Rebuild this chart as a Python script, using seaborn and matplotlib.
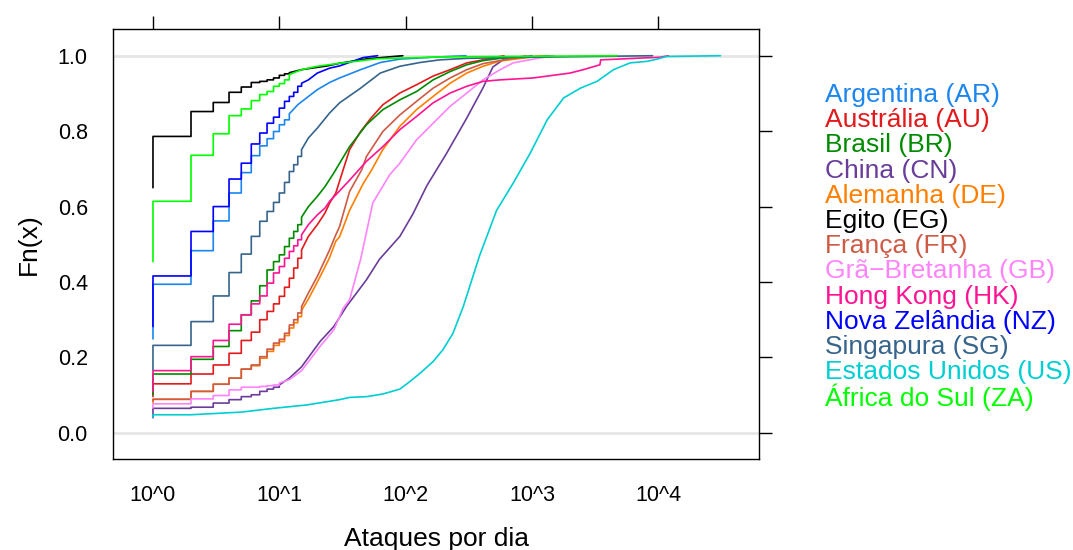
import numpy as np
import pandas as pd
import matplotlib
matplotlib.use('Agg')
from matplotlib import pyplot as plt
import seaborn as sns

# paises e cores (mesma ordem da legenda)
paises = ['Argentina (AR)', 'Austrália (AU)', 'Brasil (BR)', 'China (CN)', 'Alemanha (DE)',
          'Egito (EG)', 'França (FR)', 'Grã\u2212Bretanha (GB)', 'Hong Kong (HK)',
          'Nova Zelândia (NZ)', 'Singapura (SG)', 'Estados Unidos (US)', 'África do Sul (ZA)']
cores = ['#1C86EE', '#E31A1C', '#008B00', '#6A3D9A', '#FF7F00', '#000000', '#CD5B45',
         '#FF83FA', '#FF1493', '#0000FF', '#36648B', '#00CED1', '#00FF00']

# ECDF: valor inicial (F0) em x=1 e pontos (ataques, Fn)
ar_f0 = 0.249
ar_x = [1, 2, 3, 4, 5, 6, 7, 8, 9, 10, 11, 12, 14, 17, 20, 25, 30, 44, 63, 90, 165, 300]
ar_f = [0.394, 0.483, 0.562, 0.636, 0.690, 0.735, 0.761, 0.780, 0.799, 0.817, 0.830, 0.846,
        0.870, 0.892, 0.910, 0.929, 0.941, 0.963, 0.982, 0.991, 0.996, 1.0]

au_f0 = 0.096
au_x = [1, 2, 3, 4, 5, 6, 7, 8, 9, 10, 11, 12, 13, 14, 15, 17, 20, 23, 25, 28, 36, 44, 53, 66,
        90, 122, 165, 225, 305, 410, 600]
au_f = [0.130, 0.156, 0.180, 0.211, 0.245, 0.267, 0.300, 0.322, 0.342, 0.362, 0.386, 0.410,
        0.437, 0.463, 0.485, 0.521, 0.552, 0.583, 0.609, 0.636, 0.751, 0.799, 0.834, 0.870,
        0.901, 0.923, 0.946, 0.963, 0.981, 0.989, 1.0]

br_f0 = 0.101
br_x = [1, 2, 3, 4, 5, 6, 7, 8, 9, 10, 11, 12, 13, 14, 15, 17, 20, 23, 27, 36, 49, 66, 90,
        122, 165, 225, 305, 410, 560, 1500]
br_f = [0.156, 0.195, 0.229, 0.271, 0.313, 0.350, 0.390, 0.432, 0.454, 0.472, 0.494, 0.516,
        0.534, 0.552, 0.572, 0.600, 0.627, 0.653, 0.689, 0.759, 0.817, 0.857, 0.883, 0.905,
        0.936, 0.958, 0.976, 0.987, 0.993, 1.0]

cn_f0 = 0.040
cn_x = [1, 2, 3, 4, 5, 6, 7, 8, 9, 10, 12, 15, 21, 27, 34, 49, 62, 90, 114, 147, 210, 305,
        410, 490, 590, 1000]
cn_f = [0.065, 0.068, 0.079, 0.088, 0.096, 0.101, 0.110, 0.116, 0.121, 0.127, 0.145, 0.175,
        0.242, 0.282, 0.335, 0.406, 0.460, 0.521, 0.580, 0.655, 0.740, 0.835, 0.915, 0.970,
        0.989, 1.0]

de_f0 = 0.080
de_x = [1, 2, 3, 4, 5, 6, 7, 8, 9, 10, 11, 12, 13, 14, 15, 17, 20, 23, 25, 28, 30, 36, 46,
        54, 66, 90, 122, 165, 225, 305, 410, 560, 1200]
de_f = [0.089, 0.110, 0.129, 0.145, 0.169, 0.178, 0.198, 0.216, 0.232, 0.242, 0.258, 0.278,
        0.292, 0.308, 0.325, 0.355, 0.400, 0.440, 0.465, 0.508, 0.520, 0.590, 0.660, 0.698,
        0.751, 0.813, 0.857, 0.892, 0.927, 0.954, 0.972, 0.986, 1.0]

eg_f0 = 0.650
eg_x = [1, 2, 3, 4, 5, 6, 7, 8, 9, 10, 11, 12, 15, 18, 24, 30, 50, 95]
eg_f = [0.786, 0.852, 0.876, 0.903, 0.917, 0.929, 0.932, 0.936, 0.941, 0.948, 0.952, 0.955,
        0.963, 0.967, 0.973, 0.980, 0.992, 1.0]

fr_f0 = 0.085
fr_x = [1, 2, 3, 4, 5, 6, 7, 8, 9, 10, 11, 12, 13, 14, 15, 17, 20, 23, 25, 28, 30, 36, 45,
        49, 66, 90, 122, 165, 225, 305, 410, 560, 900]
fr_f = [0.089, 0.110, 0.129, 0.145, 0.169, 0.180, 0.202, 0.222, 0.238, 0.248, 0.264, 0.286,
        0.300, 0.318, 0.335, 0.371, 0.415, 0.459, 0.485, 0.525, 0.547, 0.640, 0.698, 0.733,
        0.799, 0.843, 0.879, 0.914, 0.941, 0.963, 0.979, 0.987, 1.0]

gb_f0 = 0.066
gb_x = [1, 2, 3, 4, 5, 6, 7, 8, 9, 10, 12, 15, 21, 27, 32, 36, 44, 55, 75, 90, 122, 165, 225,
        305, 410, 560, 710, 1150, 1500]
gb_f = [0.077, 0.090, 0.099, 0.114, 0.121, 0.121, 0.123, 0.125, 0.127, 0.132, 0.141, 0.165,
        0.229, 0.273, 0.330, 0.353, 0.460, 0.610, 0.685, 0.715, 0.777, 0.821, 0.866, 0.901,
        0.936, 0.963, 0.981, 0.994, 1.0]

hk_f0 = 0.110
hk_x = [1, 2, 3, 4, 5, 6, 7, 8, 9, 10, 11, 12, 13, 14, 15, 17, 20, 23, 25, 28, 36, 49, 66, 90,
        122, 165, 225, 305, 410, 560, 1020, 2000, 2550, 3450, 3500, 10400, 12000]
hk_f = [0.165, 0.202, 0.245, 0.288, 0.313, 0.342, 0.363, 0.397, 0.424, 0.441, 0.463, 0.481,
        0.496, 0.512, 0.525, 0.552, 0.578, 0.596, 0.614, 0.631, 0.670, 0.720, 0.759, 0.804,
        0.839, 0.875, 0.901, 0.919, 0.932, 0.936, 0.941, 0.954, 0.963, 0.976, 0.989, 0.996, 1.0]

nz_f0 = 0.282
nz_x = [1, 2, 3, 4, 5, 6, 7, 8, 9, 10, 11, 12, 13, 14, 15, 17, 20, 25, 30, 46, 60]
nz_f = [0.416, 0.534, 0.600, 0.673, 0.715, 0.766, 0.795, 0.821, 0.837, 0.861, 0.879, 0.892,
        0.903, 0.919, 0.927, 0.936, 0.954, 0.967, 0.973, 0.995, 1.0]

sg_f0 = 0.167
sg_x = [1, 2, 3, 4, 5, 6, 7, 8, 9, 10, 11, 12, 13, 14, 15, 17, 20, 25, 30, 44, 63, 90, 130,
        186, 305, 1000, 9000]
sg_f = [0.232, 0.295, 0.363, 0.425, 0.474, 0.521, 0.561, 0.587, 0.611, 0.636, 0.664, 0.693,
        0.711, 0.733, 0.751, 0.782, 0.808, 0.848, 0.875, 0.914, 0.954, 0.972, 0.982, 0.989,
        0.993, 0.996, 1.0]

us_f0 = 0.042
us_x = [1, 2, 5, 9, 16.5, 30, 36, 49, 66, 90, 108, 130, 165, 197, 237, 286, 385, 525, 710,
        970, 1320, 1780, 2420, 3270, 4420, 5980, 8100, 9800, 11600, 31000]
us_f = [0.048, 0.048, 0.055, 0.065, 0.074, 0.088, 0.094, 0.096, 0.103, 0.116, 0.136, 0.158,
        0.189, 0.220, 0.264, 0.335, 0.470, 0.590, 0.662, 0.742, 0.830, 0.888, 0.914, 0.932,
        0.963, 0.981, 0.985, 0.991, 0.998, 1.0]

za_f0 = 0.454
za_x = [1, 2, 3, 4, 5, 6, 7, 8, 9, 10, 11, 12, 15, 20, 30, 60, 200, 2000, 4700]
za_f = [0.614, 0.736, 0.793, 0.841, 0.859, 0.881, 0.897, 0.905, 0.919, 0.926, 0.936, 0.950,
        0.963, 0.972, 0.980, 0.992, 0.997, 0.999, 1.0]

dados = [(ar_f0, ar_x, ar_f), (au_f0, au_x, au_f), (br_f0, br_x, br_f), (cn_f0, cn_x, cn_f),
         (de_f0, de_x, de_f), (eg_f0, eg_x, eg_f), (fr_f0, fr_x, fr_f), (gb_f0, gb_x, gb_f),
         (hk_f0, hk_x, hk_f), (nz_f0, nz_x, nz_f), (sg_f0, sg_x, sg_f), (us_f0, us_x, us_f),
         (za_f0, za_x, za_f)]


def degraus(f0, xs, fs):
    # escada da ECDF: degrau onde os valores sao inteiros consecutivos
    px, py = [xs[0]], [f0]
    for i in range(len(xs)):
        if i > 0 and xs[i] - xs[i - 1] == 1:
            px.append(xs[i])
            py.append(fs[i - 1])
        px.append(xs[i])
        py.append(fs[i])
    return px, py


linhas = []
for nome, (f0, xs, fs) in zip(paises, dados):
    px, py = degraus(f0, xs, fs)
    linhas.append(pd.DataFrame({'pais': nome, 'ataques': px, 'Fn': py}))
df = pd.concat(linhas, ignore_index=True)

sns.set_theme(style='white')
plt.rcParams['font.family'] = ['Liberation Sans', 'DejaVu Sans']

fig = plt.figure(figsize=(10.73, 5.5), dpi=100)
ax = fig.add_axes([0.1056, 0.165, 0.6021, 0.7817])

ax.axhline(0, color='#E6E6E6', lw=2, zorder=0)
ax.axhline(1, color='#E6E6E6', lw=2, zorder=0)

sns.lineplot(data=df, x='ataques', y='Fn', hue='pais', hue_order=paises,
             palette=dict(zip(paises, cores)), estimator=None, sort=False,
             lw=1.2, legend=False, ax=ax)

ax.set_xscale('log')
ax.set_xlim(10 ** -0.314, 10 ** 4.80)
ax.set_ylim(-0.07, 1.07)
ax.set_xticks([1, 10, 100, 1000, 10000])
ax.set_xticklabels(['10^0', '10^1', '10^2', '10^3', '10^4'])
ax.minorticks_off()
ax.set_yticks([0, 0.2, 0.4, 0.6, 0.8, 1.0])
ax.set_yticklabels(['0.0', '0.2', '0.4', '0.6', '0.8', '1.0'])
ax.tick_params(axis='both', which='both', direction='out', length=9.4, width=1,
               color='black', top=True, right=True, labeltop=False, labelright=False,
               labelsize=15.5, pad=9, labelcolor='black')
for s in ax.spines.values():
    s.set_color('black')
    s.set_linewidth(1)

ax.set_xlabel('Ataques por dia', fontsize=19, labelpad=15, color='black')
ax.set_ylabel('Fn(x)', fontsize=19, labelpad=12, color='black')

# legenda em texto colorido a direita
y0 = 1 - 95 / 550
passo = 25.2 / 550
for i, (nome, cor) in enumerate(zip(paises, cores)):
    fig.text(825 / 1073, y0 - i * passo, nome, color=cor, fontsize=19, va='center', ha='left')

fig.savefig('out.png', dpi=100)
